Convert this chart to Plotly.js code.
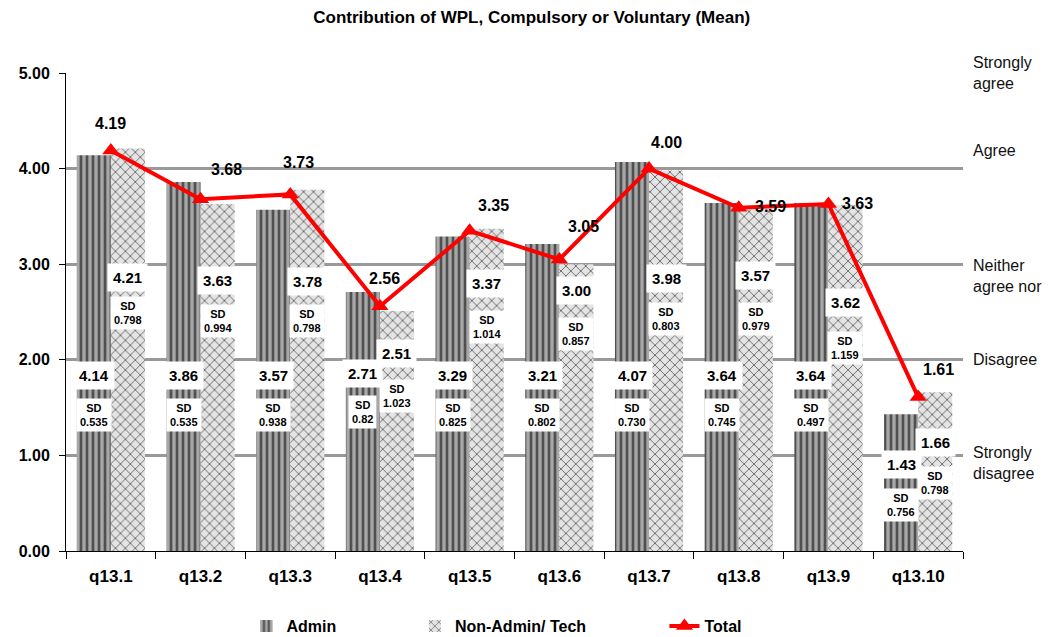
<!DOCTYPE html>
<html>
<head>
<meta charset="utf-8">
<script src="https://cdn.plot.ly/plotly-3.0.1.min.js"></script>
<style>html,body{margin:0;padding:0;background:#fff;}#chart{width:1053px;height:637px;}</style>
</head>
<body>
<div id="chart"></div>
<script>
// ---- data ----
var categories = ["q13.1","q13.2","q13.3","q13.4","q13.5","q13.6","q13.7","q13.8","q13.9","q13.10"];
var adminMean = [4.14,3.86,3.57,2.71,3.29,3.21,4.07,3.64,3.64,1.43];
var adminSD = ["0.535","0.535","0.938","0.82","0.825","0.802","0.730","0.745","0.497","0.756"];
var nonAdminMean = [4.21,3.63,3.78,2.51,3.37,3.00,3.98,3.57,3.62,1.66];
var nonAdminSD = ["0.798","0.994","0.798","1.023","1.014","0.857","0.803","0.979","1.159","0.798"];
var totalMean = [4.19,3.68,3.73,2.56,3.35,3.05,4.00,3.59,3.63,1.61];
var scaleLabels = ["Strongly disagree","Disagree","Neither agree nor","Agree","Strongly agree"];
var scaleValues = [1,2,3,4,5];

// ---- label placement (layout only) ----
var adminLabelY = [1.84,1.84,1.84,1.86,1.84,1.84,1.84,1.84,1.84,0.90];
var adminSDY    = [1.42,1.42,1.42,1.45,1.42,1.42,1.42,1.42,1.42,0.48];
var nonLabelY   = [2.86,2.83,2.82,2.07,2.80,2.73,2.85,2.88,2.60,1.14];
var nonSDY      = [2.49,2.41,2.41,1.62,2.34,2.27,2.43,2.43,2.12,0.71];
var totDX = [0,26,8,5,24,24,17,32,29,20];
var totDY = [-27,-30,-32,-28,-25,-33,-26,-1,0,-28];
var scaleShift = [-8,0,-12,18,0];

var FONT = "Liberation Sans, Arial, sans-serif";

var traces = [
  {type:"bar", name:"Admin", x:categories, y:adminMean, legend:"legend",
   marker:{color:"#a8a8a8", line:{width:0},
     pattern:{shape:"|", fgcolor:"#505050", bgcolor:"#a8a8a8", size:6, solidity:0.45}},
   hoverinfo:"skip"},
  {type:"bar", name:"Non-Admin/ Tech", x:categories, y:nonAdminMean, legend:"legend2",
   marker:{color:"#e4e4e4", line:{width:0},
     pattern:{shape:"x", fgcolor:"#4a4a4a", bgcolor:"#e4e4e4", size:7, solidity:0.2}},
   hoverinfo:"skip"},
  {type:"scatter", mode:"lines+markers", name:"Total", x:categories, y:totalMean, legend:"legend3",
   line:{color:"#ff0000", width:4},
   marker:{symbol:"triangle-up", size:15, color:"#ff0000"},
   hoverinfo:"skip"}
];

var ann = [];
for (var i=0;i<categories.length;i++){
  ann.push({x:categories[i], y:adminLabelY[i], xref:"x", yref:"y", xshift:-17,
    text:"<b>"+adminMean[i].toFixed(2)+"</b>", showarrow:false, bgcolor:"#ffffff", borderpad:5,
    font:{family:FONT,size:15,color:"#000"}});
  ann.push({x:categories[i], y:adminSDY[i], xref:"x", yref:"y", xshift:-17,
    text:"<b>SD<br>"+adminSD[i]+"</b>", showarrow:false, bgcolor:"#ffffff", borderpad:3,
    font:{family:FONT,size:11,color:"#000"}});
  ann.push({x:categories[i], y:nonLabelY[i], xref:"x", yref:"y", xshift:17,
    text:"<b>"+nonAdminMean[i].toFixed(2)+"</b>", showarrow:false, bgcolor:"#ffffff", borderpad:5,
    font:{family:FONT,size:15,color:"#000"}});
  ann.push({x:categories[i], y:nonSDY[i], xref:"x", yref:"y", xshift:17,
    text:"<b>SD<br>"+nonAdminSD[i]+"</b>", showarrow:false, bgcolor:"#ffffff", borderpad:3,
    font:{family:FONT,size:11,color:"#000"}});
  ann.push({x:categories[i], y:totalMean[i], xref:"x", yref:"y", xshift:totDX[i], yshift:-totDY[i],
    text:"<b>"+totalMean[i].toFixed(2)+"</b>", showarrow:false,
    font:{family:FONT,size:16,color:"#000"}});
}
for (var j=0;j<scaleLabels.length;j++){
  ann.push({x:1, y:scaleValues[j], xref:"paper", yref:"y", xanchor:"left", xshift:8, yshift:scaleShift[j],
    text:scaleLabels[j].replace(/^(\S+) /,"$1<br>"), align:"left", showarrow:false,
    font:{family:FONT,size:16,color:"#111"}});
}

var legBase = {orientation:"h", xref:"container", yref:"container", y:0.017, yanchor:"middle", xanchor:"left",
  font:{family:FONT,size:16,color:"#000",weight:"bold"}, bgcolor:"rgba(0,0,0,0)"};

var layout = {
  width:1053, height:637,
  margin:{l:66, r:90, t:73, b:86},
  paper_bgcolor:"#fff", plot_bgcolor:"#fff",
  title:{text:"<b>Contribution of WPL, Compulsory or Voluntary (Mean)</b>", x:0.505, xref:"container", xanchor:"center",
    yref:"container", y:0.973, yanchor:"middle",
    font:{family:FONT,size:17,color:"#000"}},
  barmode:"group", bargap:0.24, bargroupgap:0,
  xaxis:{type:"category", range:[-0.5,9.5], showline:true, linecolor:"#000", linewidth:1, ticks:"outside", ticklen:7, tickcolor:"#000",
    tickson:"boundaries", ticklabelstandoff:10, showgrid:false, tickfont:{family:FONT,size:17,color:"#000",weight:"bold"}, fixedrange:true},
  yaxis:{range:[0,5], tickvals:[0,1,2,3,4,5], ticktext:["0.00","1.00","2.00","3.00","4.00","5.00"],
    showline:true, linecolor:"#000", linewidth:1, ticks:"outside", ticklen:6, tickcolor:"#000", ticklabelstandoff:6,
    showgrid:true, gridcolor:"#999999", gridwidth:3, zeroline:false,
    tickfont:{family:FONT,size:16,color:"#000",weight:"bold"}, fixedrange:true},
  showlegend:true,
  legend:Object.assign({}, legBase, {x:0.234}),
  legend2:Object.assign({}, legBase, {x:0.394}),
  legend3:Object.assign({}, legBase, {x:0.631}),
  annotations:ann
};

Plotly.newPlot("chart", traces, layout, {displayModeBar:false, staticPlot:true});
</script>
</body>
</html>
